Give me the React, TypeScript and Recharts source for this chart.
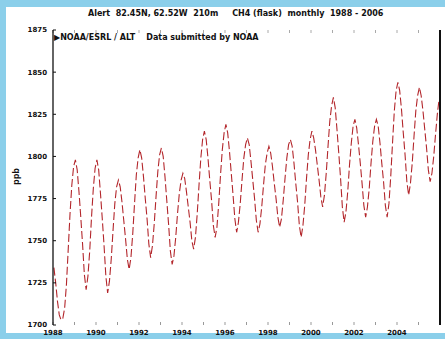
import { LineChart, Line, XAxis, YAxis } from "recharts";

const years = [
  1988, 1989, 1990, 1991, 1992, 1993, 1994, 1995, 1996,
  1997, 1998, 1999, 2000, 2001, 2002, 2003, 2004, 2005,
];

// monthly CH4 (ppb), Jan..Dec, one row per year
const monthly: number[][] = [
  [1734, 1725, 1714, 1706, 1703, 1704, 1710, 1724, 1745, 1766, 1783, 1794],
  [1798, 1792, 1779, 1764, 1748, 1730, 1721, 1729, 1744, 1764, 1781, 1793],
  [1798, 1792, 1778, 1763, 1747, 1729, 1719, 1726, 1739, 1756, 1772, 1782],
  [1786, 1782, 1773, 1762, 1751, 1739, 1733, 1740, 1754, 1772, 1789, 1799],
  [1804, 1799, 1788, 1775, 1763, 1748, 1740, 1747, 1760, 1776, 1791, 1801],
  [1805, 1800, 1788, 1774, 1760, 1744, 1736, 1741, 1752, 1766, 1778, 1786],
  [1790, 1787, 1779, 1770, 1761, 1750, 1745, 1752, 1766, 1783, 1799, 1810],
  [1815, 1810, 1799, 1786, 1774, 1759, 1752, 1758, 1772, 1789, 1804, 1814],
  [1819, 1814, 1803, 1790, 1777, 1763, 1755, 1761, 1772, 1786, 1799, 1807],
  [1811, 1807, 1797, 1786, 1775, 1762, 1755, 1760, 1770, 1783, 1795, 1802],
  [1806, 1802, 1794, 1784, 1775, 1764, 1758, 1763, 1774, 1787, 1799, 1807],
  [1810, 1806, 1796, 1784, 1773, 1759, 1752, 1759, 1771, 1787, 1801, 1810],
  [1815, 1811, 1804, 1795, 1786, 1776, 1770, 1777, 1790, 1806, 1821, 1830],
  [1835, 1829, 1816, 1802, 1787, 1770, 1761, 1767, 1779, 1795, 1808, 1818],
  [1822, 1817, 1807, 1796, 1784, 1771, 1764, 1770, 1781, 1796, 1809, 1818],
  [1822, 1818, 1808, 1796, 1785, 1771, 1764, 1772, 1788, 1808, 1827, 1839],
  [1844, 1839, 1828, 1814, 1801, 1785, 1777, 1784, 1796, 1812, 1827, 1836],
  [1841, 1836, 1827, 1816, 1805, 1792, 1785, 1790, 1800, 1813, 1825, 1834],
];

const yTicks = [1700, 1725, 1750, 1775, 1800, 1825, 1850, 1875];
const xTicks = [
  1988, 1989, 1990, 1991, 1992, 1993, 1994, 1995, 1996, 1997,
  1998, 1999, 2000, 2001, 2002, 2003, 2004, 2005, 2006,
];

const data = years.flatMap((y, i) =>
  monthly[i].map((v, m) => ({ t: y + (m + 0.5) / 12, ch4: v }))
);

const font = "'DejaVu Sans', sans-serif";
const tickStyle = { fontSize: 7, fontWeight: 700, fill: "#111", fontFamily: font };

export default function App() {
  return (
    <div
      style={{
        position: "fixed",
        left: 0,
        top: 0,
        width: 445,
        height: 339,
        background: "#8bcfea",
        overflow: "hidden",
      }}
    >
      <div
        style={{
          position: "absolute",
          left: 6,
          top: 7,
          width: 439,
          height: 326,
          background: "#ffffff",
        }}
      />
      <LineChart
        width={445}
        height={339}
        data={data}
        margin={{ top: 29, right: 4, bottom: 0, left: 0 }}
        style={{ position: "absolute", left: 0, top: 0 }}
      >
        <XAxis
          xAxisId="bottom"
          dataKey="t"
          type="number"
          domain={[1988, 2006]}
          ticks={xTicks}
          interval={0}
          height={14}
          axisLine={false}
          tickSize={-3}
          tickMargin={8}
          tickLine={{ stroke: "#999" }}
          tick={tickStyle}
          tickFormatter={(v: number) => (v % 2 === 0 && v < 2006 ? String(v) : "")}
        />
        <XAxis
          xAxisId="top"
          orientation="top"
          dataKey="t"
          type="number"
          domain={[1988, 2006]}
          ticks={xTicks}
          interval={0}
          height={1}
          axisLine={false}
          tickSize={-3}
          tickLine={{ stroke: "#aaa" }}
          tickFormatter={() => ""}
        />
        <YAxis
          yAxisId="left"
          domain={[1700, 1875]}
          ticks={yTicks}
          interval={0}
          width={53}
          axisLine={{ stroke: "#111", strokeWidth: 1.3 }}
          tickLine={{ stroke: "#111" }}
          tickSize={-3}
          tickMargin={9}
          tick={tickStyle}
        />
        <YAxis
          yAxisId="right"
          orientation="right"
          domain={[1700, 1875]}
          ticks={yTicks}
          interval={0}
          width={1}
          axisLine={{ stroke: "#111", strokeWidth: 2 }}
          tickLine={{ stroke: "#111" }}
          tickSize={-3}
          tickFormatter={() => ""}
        />
        <Line
          xAxisId="bottom"
          yAxisId="left"
          type="linear"
          dataKey="ch4"
          stroke="#b3262b"
          strokeWidth={1.1}
          strokeDasharray="8 3"
          dot={false}
          isAnimationActive={false}
        />
      </LineChart>
      <div
        style={{
          position: "absolute",
          left: 88,
          top: 9,
          fontFamily: font,
          fontSize: 8,
          fontWeight: 700,
          color: "#111",
          whiteSpace: "pre",
        }}
      >
        {"Alert  82.45N, 62.52W  210m     CH4 (flask)  monthly  1988 - 2006"}
      </div>
      <div
        style={{
          position: "absolute",
          left: 54,
          top: 33,
          fontFamily: font,
          fontSize: 8,
          fontWeight: 700,
          color: "#111",
          whiteSpace: "pre",
        }}
      >
        {"\u25B6NOAA/ESRL / ALT    Data submitted by NOAA"}
      </div>
      <div
        style={{
          position: "absolute",
          left: 4,
          top: 172,
          width: 24,
          textAlign: "center",
          transform: "rotate(-90deg)",
          fontFamily: font,
          fontSize: 8,
          fontWeight: 700,
          color: "#111",
        }}
      >
        ppb
      </div>
    </div>
  );
}
